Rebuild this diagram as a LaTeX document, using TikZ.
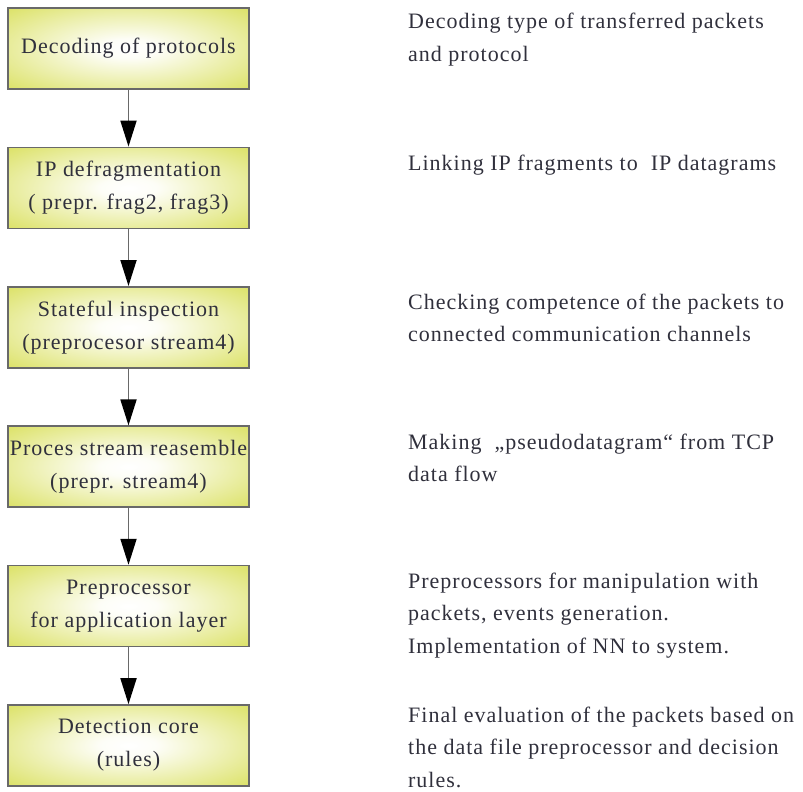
\documentclass[tikz,border=0pt]{standalone}
\usepackage{fontspec}
\setmainfont[LetterSpace=4.5]{Liberation Serif}
\usetikzlibrary{arrows.meta}
\definecolor{yg}{RGB}{208,216,52}
\definecolor{txt}{RGB}{48,48,60}
\definecolor{edge}{RGB}{105,105,105}
\pgfdeclareradialshading{boxshade}{\pgfpoint{0bp}{0bp}}{color(0bp)=(white); color(6bp)=(white!96!yg); color(46bp)=(yg); color(100bp)=(yg)}
\begin{document}
\begin{tikzpicture}[x=1pt,y=-1pt,
  stepbox/.style={draw=edge,line width=1.6pt,shading=boxshade,minimum width=241pt,minimum height=81pt,inner sep=0pt,align=center,text=txt,font=\fontsize{22}{33}\selectfont},
  desc/.style={anchor=base west,align=left,inner sep=0pt,text=txt,font=\fontsize{22}{32.5}\selectfont},
  flow/.style={draw=edge,line width=1.8pt,-{Triangle[width=16pt,length=26pt,fill=black,color=black]}}]
\useasboundingbox (0,0) rectangle (803,792);
\node[stepbox] (b1) at (128.5,48.5) {Decoding of protocols};
\node[stepbox] (b2) at (128.5,187.9) {IP defragmentation\\( prepr. frag2, frag3)};
\node[stepbox] (b3) at (128.5,327.3) {Stateful inspection\\(preprocesor stream4)};
\node[stepbox] (b4) at (128.5,466.7) {Proces stream reasemble\\(prepr. stream4)};
\node[stepbox] (b5) at (128.5,606.1) {Preprocessor\\for application layer};
\node[stepbox] (b6) at (128.5,745.5) {Detection core\\(rules)};
\draw[flow] (b1) -- (b2);
\draw[flow] (b2) -- (b3);
\draw[flow] (b3) -- (b4);
\draw[flow] (b4) -- (b5);
\draw[flow] (b5) -- (b6);
\node[desc] (d1) at (408,61.5) {Decoding type of transferred packets\\and protocol};
\node[desc] (d2) at (408,170) {Linking IP fragments to\ \ IP datagrams};
\node[desc] (d3) at (408,341.5) {Checking competence of the packets to\\connected communication channels};
\node[desc] (d4) at (408,481.5) {Making\ \ „pseudodatagram“ from TCP\\data flow};
\node[desc] (d5) at (408,653) {Preprocessors for manipulation with\\packets, events generation.\\Implementation of NN to system.};
\node[desc] (d6) at (408,787) {Final evaluation of the packets based on\\the data file preprocessor and decision\\rules.};
\end{tikzpicture}
\end{document}
